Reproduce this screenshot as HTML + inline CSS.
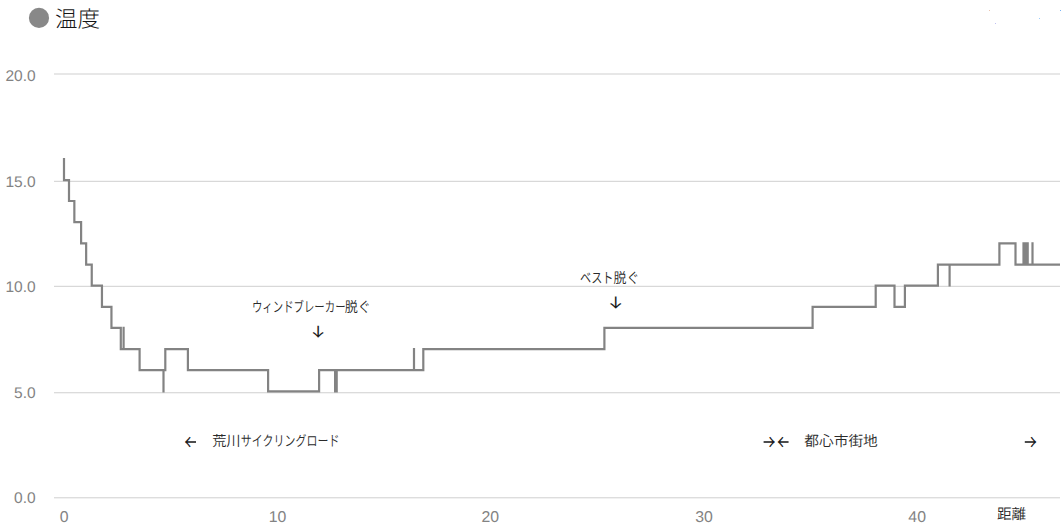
<!DOCTYPE html>
<html lang="ja">
<head>
<meta charset="utf-8">
<title>温度</title>
<style>
html,body{margin:0;padding:0;background:#fff;}
body{width:1061px;height:530px;overflow:hidden;}
svg{display:block;}
text{text-rendering:geometricPrecision;}
.ax{font-family:"Liberation Sans",sans-serif;font-size:15px;fill:#838383;}
.jp{font-family:"Liberation Sans","Noto Sans CJK JP",sans-serif;font-size:14.6px;fill:#2a2a2a;font-weight:350;}
.lg{font-family:"Liberation Sans","Noto Sans CJK JP",sans-serif;font-size:22px;fill:#151515;font-weight:300;}
.ar{font-family:"Noto Sans CJK JP",sans-serif;font-size:20px;fill:#1c1c1c;font-weight:350;}
</style>
</head>
<body>
<svg width="1061" height="530" viewBox="0 0 1061 530">
<rect width="1061" height="530" fill="#ffffff"/>
<circle cx="39" cy="17.9" r="10.1" fill="#888888"/>
<rect x="989" y="10" width="1" height="1" fill="#ecc4b0"/><rect x="995" y="23" width="1" height="1" fill="#c0c0f2"/><rect x="1039" y="18" width="1" height="1" fill="#9ccdfc"/><rect x="1060" y="10" width="1" height="1" fill="#78b4f6"/>
<g fill="#cfcfcf">
<rect x="54" y="73.5" width="1006" height="1"/>
<rect x="54" y="180.8" width="1006" height="1"/>
<rect x="54" y="285.8" width="1006" height="1"/>
<rect x="54" y="392.25" width="1006" height="1"/>
<rect x="54" y="497.3" width="1006" height="1"/>
</g>
<path d="M64 157.9 L64 180.2 L69 180.2 L69 201 L74.35 201 L74.35 222.2 L81.1 222.2 L81.1 243.4 L86.15 243.4 L86.15 264.6 L91.75 264.6 L91.75 285.6 L101.95 285.6 L101.95 306.8 L111.45 306.8 L111.45 327.8 L120.8 327.8 L120.8 349.1 L123.6 349.1 L123.6 326.7 L123.6 349.1 L139.6 349.1 L139.6 370.1 L163.5 370.1 L163.5 392.4 L163.5 370.1 L165.3 370.1 L165.3 349.1 L187.9 349.1 L187.9 370.1 L268.1 370.1 L268.1 391.3 L319.1 391.3 L319.1 370.1 L335.1 370.1 L335.1 391.3 L336.7 391.3 L336.7 370.1 L414 370.1 L414 348 L414 370.1 L423.3 370.1 L423.3 349.1 L604.4 349.1 L604.4 327.8 L812.6 327.8 L812.6 306.8 L875.7 306.8 L875.7 285.6 L894.5 285.6 L894.5 306.8 L904.9 306.8 L904.9 285.6 L937.9 285.6 L937.9 264.6 L949.6 264.6 L949.6 286.6 L949.6 264.6 L999.4 264.6 L999.4 243.4 L1015.5 243.4 L1015.5 264.6 L1023.5 264.6 L1023.5 242.3 L1023.5 264.6 L1025.6 264.6 L1025.6 242.3 L1025.6 264.6 L1027.7 264.6 L1027.7 242.3 L1027.7 264.6 L1032.5 264.6 L1032.5 242.3 L1032.5 264.6 L1060 264.6" fill="none" stroke="#838383" stroke-width="2.2" stroke-linejoin="miter" stroke-linecap="butt"/>
<text class="ax" text-anchor="end" transform="translate(35.65,80.5) scale(1.035,1.03)">20.0</text>
<text class="ax" text-anchor="end" transform="translate(35.65,186.5) scale(1.035,1.03)">15.0</text>
<text class="ax" text-anchor="end" transform="translate(35.65,291.8) scale(1.035,1.03)">10.0</text>
<text class="ax" text-anchor="end" transform="translate(35.65,397.75) scale(1.035,1.03)">5.0</text>
<text class="ax" text-anchor="end" transform="translate(35.65,502.95) scale(1.035,1.03)">0.0</text>
<text class="ax" text-anchor="middle" transform="translate(64.15,521.75) scale(1.055,1.045)">0</text>
<text class="ax" text-anchor="middle" transform="translate(277.45,521.75) scale(1.055,1.045)">10</text>
<text class="ax" text-anchor="middle" transform="translate(490.3,521.75) scale(1.055,1.045)">20</text>
<text class="ax" text-anchor="middle" transform="translate(704,521.75) scale(1.055,1.045)">30</text>
<text class="ax" text-anchor="middle" transform="translate(917.15,521.75) scale(1.055,1.045)">40</text>
<text id="lg" class="lg" transform="translate(54.98,27.21) scale(1.0238,1.0238)">温度</text>
<text id="w1" class="jp" transform="translate(251.96,312.24) scale(0.7127,0.9850)">ウィンドブレーカー</text>
<text id="w2" class="jp" transform="translate(344.67,312.24) scale(0.8953,0.9850)">脱ぐ</text>
<text id="v1" class="jp" transform="translate(579.89,283.40) scale(0.7624,0.9850)">ベスト</text>
<text id="v2" class="jp" transform="translate(613.46,283.40) scale(0.8860,0.9850)">脱ぐ</text>
<text id="a1" class="jp" transform="translate(212.16,446.20) scale(0.9723,0.9850)">荒川</text>
<text id="a2" class="jp" transform="translate(240.84,446.20) scale(0.7523,0.9850)">サイクリングロード</text>
<text id="t1" class="jp" transform="translate(804.30,446.20) scale(1.0070,0.9850)">都心市街地</text>
<text id="k1" class="jp" transform="translate(997.00,518.85) scale(1.0003,0.9850)">距離</text>
<defs><clipPath id="c0"><rect x="311.70" y="325.70" width="12.70" height="12.20"/></clipPath><clipPath id="c1"><rect x="609.20" y="296.60" width="13.00" height="12.25"/></clipPath><clipPath id="c2"><rect x="184.70" y="435.50" width="11.30" height="12.60"/></clipPath><clipPath id="c3"><rect x="763.60" y="435.50" width="11.50" height="12.60"/></clipPath><clipPath id="c4"><rect x="777.30" y="435.50" width="11.30" height="12.60"/></clipPath><clipPath id="c5"><rect x="1024.80" y="435.50" width="11.70" height="12.60"/></clipPath></defs>
<g clip-path="url(#c0)"><text class="ar" transform="translate(306.42,336.28) rotate(0.03) scale(1.1630,0.9500)">↓</text></g>
<g clip-path="url(#c1)"><text class="ar" transform="translate(603.74,307.23) rotate(0.03) scale(1.1957,0.9500)">↓</text></g>
<g clip-path="url(#c2)"><text class="ar" transform="translate(184.04,450.56) rotate(0.03) scale(0.9500,1.1277)">←</text></g>
<g clip-path="url(#c3)"><text class="ar" transform="translate(756.76,450.56) rotate(0.03) scale(0.9500,1.1277)">→</text></g>
<g clip-path="url(#c4)"><text class="ar" transform="translate(776.64,450.56) rotate(0.03) scale(0.9500,1.1277)">←</text></g>
<g clip-path="url(#c5)"><text class="ar" transform="translate(1018.16,450.56) rotate(0.03) scale(0.9500,1.1277)">→</text></g>
</svg>
</body>
</html>
